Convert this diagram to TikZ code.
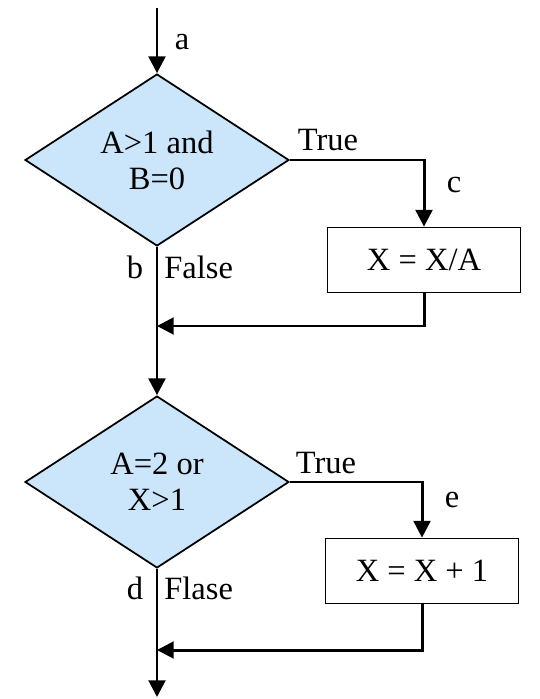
\documentclass[tikz,border=0pt]{standalone}
\usepackage{fontspec}
\setmainfont{Liberation Serif}
\usepackage{tikz}
\usetikzlibrary{calc, arrows.meta, shapes.geometric, positioning}

\definecolor{decblue}{RGB}{203,230,250}

\begin{document}
\begin{tikzpicture}[
		x=0.02cm, y=-0.02cm,
		every node/.style={font=\fontsize{18.5}{20.5}\selectfont},
		decision/.style={diamond, draw, line width=1pt, fill=decblue, aspect=1.53, minimum width=5.28cm, minimum height=3.44cm, inner sep=0pt, align=center},
		process/.style={rectangle, draw, line width=1pt, fill=white, minimum width=3.86cm, minimum height=1.3cm},
		flow/.style={line width=1.7pt, -{Triangle[length=9.5pt, width=9.5pt]}},
		plainflow/.style={line width=1.7pt}
	]
		\useasboundingbox (0, 0) rectangle (539, 699);
		% first test
		\coordinate (start) at (157, 8);
		\node[decision] (dec1) at (157, 160) {A>1 and\\B=0};
		\node[process] (box1) at (424, 260) {X = X/A};
		\coordinate (merge1) at (157, 326);
		\draw[flow] (start) -- (dec1.north);
		\draw[flow] (dec1.east) -| (box1.north);
		\draw[flow] (box1.south) |- (merge1);
		\draw[plainflow] (dec1.south) -- (merge1);
		\node at (182, 42) {a};
		\node at (328, 140) {True};
		\node at (454, 185) {c};
		\node at (135, 267) {b};
		\node[anchor=west, inner sep=0pt] at (164, 267) {False};
		% second test
		\node[decision] (dec2) at (157, 482) {A=2 or\\X>1};
		\node[process] (box2) at (422, 571) {X = X + 1};
		\coordinate (merge2) at (157, 650);
		\coordinate (finish) at (157, 697);
		\draw[flow] (merge1) -- (dec2.north);
		\draw[flow] (dec2.east) -| (box2.north);
		\draw[flow] (box2.south) |- (merge2);
		\draw[flow] (dec2.south) -- (finish);
		\node at (326, 463) {True};
		\node at (452, 500) {e};
		\node at (135, 588) {d};
		\node[anchor=west, inner sep=0pt] at (164, 588) {Flase};
	\end{tikzpicture}
\end{document}
